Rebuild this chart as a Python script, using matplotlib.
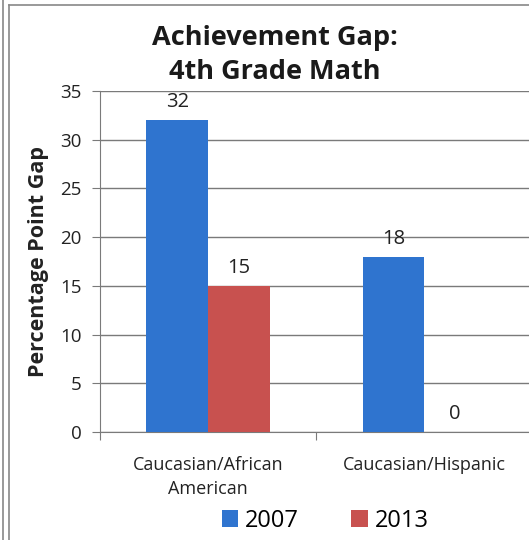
import matplotlib
matplotlib.use('Agg')
import numpy as np
from matplotlib import pyplot as plt
from matplotlib.lines import Line2D

categories = ['Caucasian/African\nAmerican', 'Caucasian/Hispanic']
years = ['2007', '2013']
gap_2007 = [32, 18]
gap_2013 = [15, 0]
yticks = [0, 5, 10, 15, 20, 25, 30, 35]

blue = '#2f74cf'
red = '#c8514f'
font = 'Open Sans'

fig = plt.figure(figsize=(5.29, 5.40), dpi=100)
ax = fig.add_axes([0.189, 0.2, 0.817, 0.6315])

x = np.arange(len(categories))
w = 0.285
b1 = ax.bar(x - w / 2, gap_2007, w, color=blue, label=years[0], zorder=3)
b2 = ax.bar(x + w / 2, gap_2013, w, color=red, label=years[1], zorder=3)

# data labels
for bars in (b1, b2):
    for r in bars:
        ax.text(r.get_x() + r.get_width() / 2, r.get_height() + 0.8,
                '{}'.format(int(r.get_height())), ha='center', va='bottom',
                fontsize=14.5, family=font, color='#222222')

ax.set_xlim(-0.5, 1.5)
ax.set_ylim(0, 35)
ax.set_yticks(yticks)
ax.set_yticklabels([str(t) for t in yticks], family=font, fontsize=13.5, color='#222222')
ax.yaxis.grid(True, color='#7a7a7a', linewidth=1.0, zorder=0)
ax.tick_params(axis='y', length=6, color='#7a7a7a', pad=7)

# category labels, boundary ticks on the x axis
ax.set_xticks([-0.5, 0.5, 1.5])
ax.set_xticklabels([])
ax.set_xticks(x, minor=True)
ax.set_xticklabels(categories, minor=True, family=font, fontsize=13, color='#222222',
                   linespacing=1.45)
ax.tick_params(axis='x', which='major', length=6, color='#7a7a7a', direction='out')
ax.tick_params(axis='x', which='minor', length=0, pad=17)

for s in ['top', 'right']:
    ax.spines[s].set_visible(False)
for s in ['left', 'bottom']:
    ax.spines[s].set_color('#7a7a7a')

ax.set_ylabel('Percentage Point Gap', family=font, fontsize=15.5, fontweight='bold',
              color='#222222', labelpad=8)

fig.text(0.52, 0.898, 'Achievement Gap:\n4th Grade Math', ha='center', va='center',
         family=font, fontsize=19.5, fontweight='bold', color='#1a1a1a', linespacing=1.4)

leg = fig.legend(handles=[b1, b2], labels=years, loc='center', bbox_to_anchor=(0.615, 0.036),
                 ncol=2, frameon=False, prop={'family': font, 'size': 17},
                 handlelength=0.7, handleheight=0.7, columnspacing=2.2, handletextpad=0.3)

# scanned page border
fig.add_artist(Line2D([0.006, 0.006], [0, 1], color='#888888', lw=1.2))
fig.add_artist(Line2D([0.017, 0.017], [0, 0.99], color='#888888', lw=1.2))
fig.add_artist(Line2D([0.017, 1], [0.99, 0.99], color='#888888', lw=1.2))

fig.savefig('out.png', dpi=100)
